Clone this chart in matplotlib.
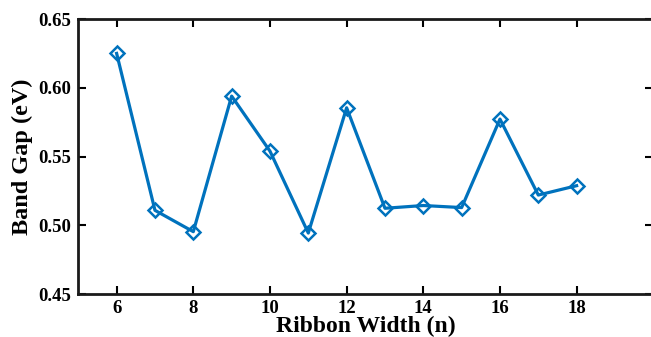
import matplotlib
matplotlib.use("Agg")
import matplotlib.pyplot as plt

widths = [6, 7, 8, 9, 10, 11, 12, 13, 14, 15, 16, 17, 18]
band_gap = [0.625, 0.511, 0.4955, 0.594, 0.554, 0.4945, 0.5855, 0.5125, 0.5145, 0.513, 0.5773, 0.5221, 0.5289]
xticks = [6, 8, 10, 12, 14, 16, 18]
yticks = [0.45, 0.50, 0.55, 0.60, 0.65]

plt.rcParams['font.family'] = ['Liberation Serif', 'DejaVu Serif']
plt.rcParams['font.weight'] = 'bold'

fig = plt.figure(figsize=(6.51, 3.37), dpi=100)
ax = fig.add_axes([78.3/651, 42.7/337, 575/651, 275.3/337])
color = '#0072BD'
ax.plot(widths, band_gap, color=color, lw=2.3, marker='D', ms=7,
        mfc='none', mec=color, mew=1.8)
ax.set_xlim(5, 20)
ax.set_ylim(0.45, 0.65)
ax.set_xticks(xticks)
ax.set_yticks(yticks)
ax.set_yticklabels([f"{v:.2f}" for v in yticks])
ax.tick_params(direction='in', top=True, right=True, length=6, width=1.5,
               labelsize=13.5, pad=5)
ax.tick_params(axis='x', pad=4)
for lab in ax.get_xticklabels() + ax.get_yticklabels():
    lab.set_fontweight('bold')
for s in ax.spines.values():
    s.set_linewidth(2.0)
    s.set_color('#1a1a1a')
ax.set_xlabel('Ribbon Width (n)', fontsize=17, fontweight='bold', labelpad=-1)
ax.set_ylabel('Band Gap (eV)', fontsize=17.5, fontweight='bold', labelpad=4)
fig.savefig('out.png', dpi=100)
